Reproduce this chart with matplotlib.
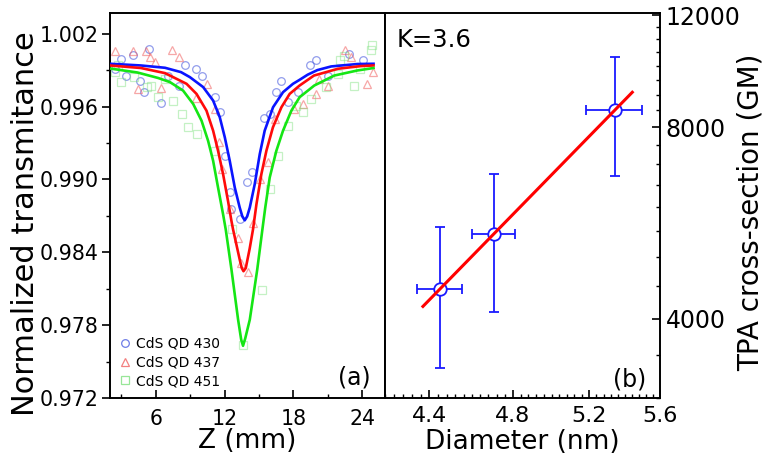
import matplotlib
matplotlib.use("Agg")
import matplotlib.pyplot as plt
import matplotlib.ticker as mticker

plt.rcParams['font.family'] = ['DejaVu Sans']

# ---------------- Panel (a): Z-scan data ----------------
# fitted curves
z_fit_430 = [2.0, 4.7, 6.8, 8.2, 8.97, 10.13, 11.0, 11.58, 12.02, 12.45, 12.89, 13.32, 13.55,
             13.76, 13.97, 14.2, 14.63, 15.07, 15.5, 16.23, 17.1, 17.97, 18.55, 19.25, 20.1,
             21.3, 23.6, 25.0]
t_fit_430 = [0.99952, 0.99938, 0.99919, 0.99883, 0.99842, 0.99760, 0.99649, 0.99512, 0.99346,
             0.99153, 0.98933, 0.98768, 0.98695, 0.98663, 0.98695, 0.98768, 0.98960, 0.99208,
             0.99401, 0.99594, 0.99718, 0.99787, 0.99820, 0.99862, 0.99900, 0.99930, 0.99950,
             0.99952]

z_fit_437 = [2.0, 4.7, 6.8, 7.23, 8.68, 9.55, 10.42, 11.0, 11.43, 11.87, 12.3, 12.6, 12.74,
             13.32, 13.5, 13.65, 13.85, 14.19, 14.48, 14.78, 15.21, 15.65, 16.22, 16.96, 17.68,
             18.55, 19.8, 21.9, 23.9, 25.0]
t_fit_437 = [0.99938, 0.99917, 0.99875, 0.99855, 0.99787, 0.99704, 0.99566, 0.99401, 0.99236,
             0.99043, 0.98822, 0.98657, 0.98588, 0.98340, 0.98270, 0.98244, 0.98270, 0.98430,
             0.98588, 0.98795, 0.99043, 0.99236, 0.99429, 0.99594, 0.99704, 0.99773, 0.99855,
             0.99911, 0.99933, 0.99938]

z_fit_451 = [2.0, 4.4, 6.2, 7.23, 8.38, 9.26, 9.99, 10.56, 11.0, 11.43, 11.87, 12.1, 12.6,
             13.18, 13.45, 13.61, 13.8, 14.2, 14.85, 15.3, 15.55, 15.94, 16.52, 17.1, 17.83,
             18.55, 19.83, 21.57, 23.6, 25.0]
t_fit_451 = [0.99913, 0.99880, 0.99835, 0.99801, 0.99731, 0.99621, 0.99483, 0.99318, 0.99153,
             0.98933, 0.98712, 0.98588, 0.98258, 0.97845, 0.97680, 0.97630, 0.97690, 0.97845,
             0.98258, 0.98588, 0.98768, 0.99016, 0.99236, 0.99401, 0.99566, 0.99677, 0.99773,
             0.99855, 0.99897, 0.99917]

# measured points
z_430 = [2.41, 2.98, 3.42, 4.0, 4.59, 4.96, 5.37, 6.47, 7.05, 8.01, 8.51, 9.52, 10.04, 11.12,
         11.56, 12.02, 12.45, 12.6, 13.32, 13.96, 14.43, 15.41, 15.94, 16.52, 16.96, 17.53,
         18.4, 19.48, 20.0, 20.99, 22.9, 24.06]
t_430 = [0.99911, 0.99993, 0.99855, 1.00021, 0.99809, 0.99718, 1.00076, 0.99627, 0.99855,
         0.99773, 0.99938, 0.99911, 0.99855, 0.99677, 0.99553, 0.99194, 0.98894, 0.98754,
         0.98671, 0.98979, 0.99062, 0.99503, 0.99539, 0.99723, 0.99814, 0.99636, 0.99718,
         0.99938, 0.99979, 0.99855, 1.00035, 0.99979]

z_437 = [2.41, 4.03, 5.14, 5.48, 5.92, 4.44, 6.49, 7.4, 8.05, 9.53, 10.45, 11.12, 11.5, 11.8,
         12.45, 13.17, 13.47, 14.05, 14.48, 15.07, 15.79, 16.37, 18.08, 18.81, 20.0, 20.27,
         20.99, 22.47, 23.03, 24.47, 24.94]
t_437 = [1.00055, 1.00055, 1.00055, 1.00007, 0.99966, 0.99745, 0.99754, 1.00062, 1.00007,
         0.99671, 0.99787, 0.99580, 0.99307, 0.99084, 0.98754, 0.98520, 0.98313, 0.98236,
         0.98644, 0.99002, 0.99140, 0.99498, 0.99580, 0.99621, 0.99704, 0.99828, 0.99773,
         1.00062, 1.00007, 0.99787, 0.99883]

z_451 = [2.41, 2.70, 2.96, 4.09, 5.2, 5.6, 6.18, 6.79, 7.49, 8.25, 8.79, 9.58, 11.15, 12.63,
         13.6, 15.24, 15.94, 16.63, 17.5, 18.26, 18.81, 19.57, 20.84, 21.86, 22.03, 22.44,
         23.31, 23.78, 24.76, 24.9]
t_451 = [0.99883, 0.99944, 0.99801, 0.99845, 0.99760, 0.99773, 0.99679, 0.99828, 0.99649,
         0.99539, 0.99429, 0.99374, 0.99233, 0.98589, 0.97638, 0.98093, 0.98919, 0.99194,
         0.99442, 0.99607, 0.99553, 0.99663, 0.99760, 0.99870, 0.99980, 1.00018, 0.99773,
         0.99911, 1.00062, 1.00109]

labels_a = ['CdS QD 430', 'CdS QD 437', 'CdS QD 451']

# ---------------- Panel (b): TPA cross-section vs diameter ----------------
diameter = [4.447, 4.705, 5.34]
diameter_err = [0.105, 0.105, 0.157]
tpa = [4456, 5430, 8515]
tpa_err = [1115, 1330, 1810]
fit_d = [4.37, 5.44]
fit_tpa = [4180, 9080]
k_label = 'K=3.6'

W, H = 767, 455
fig = plt.figure(figsize=(W / 100, H / 100), dpi=100)

axL = fig.add_axes([110 / W, 1 - 398 / H, 275 / W, 385 / H])
axR = fig.add_axes([385 / W, 1 - 398 / H, 275 / W, 385 / H])

# ---- left panel ----
axL.plot(z_430, t_430, ls='none', marker='o', ms=5.5, mfc='none', mec='#4a5ce0', mew=0.9,
         alpha=0.6, label=labels_a[0])
axL.plot(z_437, t_437, ls='none', marker='^', ms=5.5, mfc='none', mec='#f06060', mew=0.9,
         alpha=0.55, label=labels_a[1])
axL.plot(z_451, t_451, ls='none', marker='s', ms=5.5, mfc='none', mec='#7ee07e', mew=0.9,
         alpha=0.45, label=labels_a[2])
axL.plot(z_fit_430, t_fit_430, color='#0a14ff', lw=1.9, zorder=5)
axL.plot(z_fit_437, t_fit_437, color='#ff0a0a', lw=1.9, zorder=5)
axL.plot(z_fit_451, t_fit_451, color='#14e614', lw=1.9, zorder=5)

axL.set_xlim(2, 26)
axL.set_ylim(0.972, 1.0037)
axL.xaxis.set_major_locator(mticker.MultipleLocator(6))
axL.xaxis.set_minor_locator(mticker.MultipleLocator(3))
axL.yaxis.set_major_locator(mticker.FixedLocator([0.972, 0.978, 0.984, 0.990, 0.996, 1.002]))
axL.yaxis.set_minor_locator(mticker.FixedLocator([0.975, 0.981, 0.987, 0.993, 0.999]))
axL.yaxis.set_major_formatter(mticker.FormatStrFormatter('%.3f'))
axL.tick_params(axis='x', which='both', direction='in', top=False, labelsize=14.8, pad=8)
axL.tick_params(axis='x', which='major', length=6, width=1.2)
axL.tick_params(axis='x', which='minor', length=3, width=1.0)
axL.tick_params(axis='y', which='both', direction='out', right=False, labelsize=14.8, pad=2)
axL.tick_params(axis='y', which='major', length=6, width=1.2)
axL.tick_params(axis='y', which='minor', length=3, width=1.0)
axL.set_xlabel('Z (mm)', fontsize=19)
axL.xaxis.set_label_coords(0.5, -0.078)
axL.xaxis.label.set_va('top')
axL.set_ylabel('Normalized transmitance', fontsize=22)
axL.yaxis.set_label_coords(-0.254, 0.452)
axL.text(0.89, 0.052, '(a)', transform=axL.transAxes, fontsize=17, ha='center', va='center')
leg = axL.legend(loc='lower left', frameon=False, fontsize=10, handlelength=0.8,
                 handletextpad=0.35, labelspacing=0.35, borderaxespad=0.3,
                 bbox_to_anchor=(0.0, 0.0))
for h in leg.legend_handles:
    h.set_alpha(0.8)

# ---- right panel ----
axR.plot(fit_d, fit_tpa, color='#ff0000', lw=2.2, zorder=6)
axR.errorbar(diameter, tpa, xerr=diameter_err, yerr=tpa_err, fmt='o', ms=9, mfc='white',
             mec='#1a1aff', mew=1.3, ecolor='#1a1aff', elinewidth=1.3, capsize=3.5,
             capthick=1.3, zorder=4)
axR.set_xscale('log')
axR.set_yscale('log')
axR.set_xlim(4.2, 5.6)
axR.set_ylim(3000, 12100)
axR.xaxis.set_major_locator(mticker.FixedLocator([4.4, 4.8, 5.2, 5.6]))
axR.xaxis.set_major_formatter(mticker.FormatStrFormatter('%.1f'))
axR.xaxis.set_minor_locator(mticker.MultipleLocator(0.04))
axR.xaxis.set_minor_formatter(mticker.NullFormatter())
axR.yaxis.set_major_locator(mticker.FixedLocator([4000, 8000, 12000]))
axR.yaxis.set_major_formatter(mticker.FormatStrFormatter('%d'))
axR.yaxis.set_minor_locator(mticker.MultipleLocator(500))
axR.yaxis.set_minor_formatter(mticker.NullFormatter())
axR.yaxis.tick_right()
axR.yaxis.set_label_position('right')
axR.tick_params(axis='x', which='both', direction='in', top=False, labelsize=16, pad=6)
axR.tick_params(axis='x', which='major', length=6, width=1.2)
axR.tick_params(axis='x', which='minor', length=3, width=1.0)
axR.tick_params(axis='y', which='both', direction='in', left=False, right=True,
                labelsize=17, pad=4)
axR.tick_params(axis='y', which='major', length=6, width=1.2)
axR.tick_params(axis='y', which='minor', length=3, width=1.0)
axR.set_xlabel('Diameter (nm)', fontsize=19)
axR.xaxis.set_label_coords(0.5, -0.08)
axR.xaxis.label.set_va('top')
axR.set_ylabel('TPA cross-section (GM)', fontsize=20)
axR.yaxis.set_label_coords(1.28, 0.483)
axR.text(0.044, 0.93, k_label, transform=axR.transAxes, fontsize=17.5, ha='left', va='center')
axR.text(0.89, 0.047, '(b)', transform=axR.transAxes, fontsize=17, ha='center', va='center')

for ax in (axL, axR):
    for s in ax.spines.values():
        s.set_linewidth(1.4)

fig.savefig('out.png', dpi=100)
